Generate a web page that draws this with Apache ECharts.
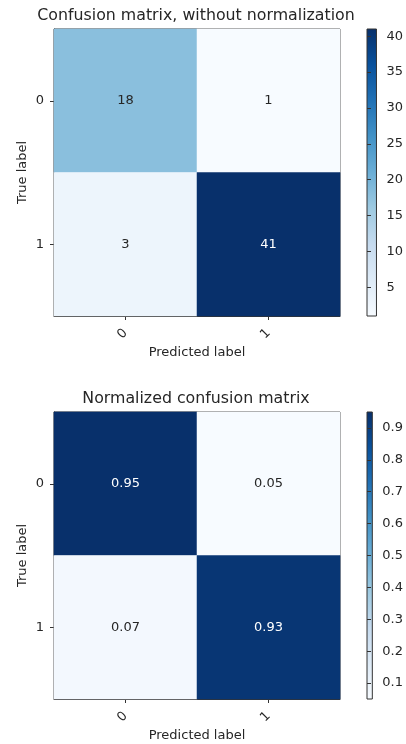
<!DOCTYPE html>
<html>
<head>
<meta charset="utf-8">
<script src="https://cdn.jsdelivr.net/npm/echarts@6/dist/echarts.min.js"></script>
<style>
  html, body { margin: 0; padding: 0; background: #fff; }
  #chart { width: 406px; height: 744px; }
</style>
</head>
<body>
<div id="chart"></div>
<script>
// Class names shared by both matrices
const classes = ['0', '1'];

// Raw prediction counts, row = true label, column = predicted label
const countsRow0 = [18, 1];
const countsRow1 = [3, 41];

// Row-normalized rates, as printed in the cells
const normRow0 = [0.95, 0.05];
const normRow1 = [0.07, 0.93];

// Colour bar tick values
const countTicks = [5, 10, 15, 20, 25, 30, 35, 40];
const normTicks = [0.1, 0.2, 0.3, 0.4, 0.5, 0.6, 0.7, 0.8, 0.9];

// matplotlib "Blues" colormap stops
const blues = ['#f7fbff', '#deebf7', '#c6dbef', '#9ecae1', '#6baed6',
               '#4292c6', '#2171b5', '#08519c', '#08306b'];

const FONT = 'DejaVu Sans';
const TEXT = '#262626';
const SPINE = '#333333';
const FS = 13;

function cells(rows) {
  const out = [];
  rows.forEach((row, y) => row.forEach((v, x) => out.push([x, y, v])));
  return out;
}

function extent(rows) {
  const all = rows.flat();
  return [Math.min(...all), Math.max(...all)];
}

const countCells = cells([countsRow0, countsRow1]);
const normCells = cells([normRow0, normRow1]);
const [cMin, cMax] = extent([countsRow0, countsRow1]);
const [nMin, nMax] = extent([normRow0, normRow1]);

// Gradient for the colour bar, dark at the top
const barGradient = {
  type: 'linear', x: 0, y: 0, x2: 0, y2: 1,
  colorStops: blues.slice().reverse().map((c, i) => ({ offset: i / (blues.length - 1), color: c }))
};

const panels = [
  { top: 29, title: 'Confusion matrix, without normalization', data: countCells,
    min: cMin, max: cMax, ticks: countTicks, fmt: v => String(v) },
  { top: 412, title: 'Normalized confusion matrix', data: normCells,
    min: nMin, max: nMax, ticks: normTicks, fmt: v => v.toFixed(2) }
];

const PLOT_LEFT = 54, PLOT_W = 286, PLOT_H = 287;
const BAR_LEFT = 367, BAR_W = 14;

const option = {
  animation: false,
  backgroundColor: '#fff',
  textStyle: { fontFamily: FONT },
  title: [], grid: [], xAxis: [], yAxis: [], visualMap: [], series: []
};

panels.forEach((p, k) => {
  const thresh = p.max / 2;
  const gPlot = k * 2, gBar = k * 2 + 1;

  option.title.push({
    text: p.title,
    left: PLOT_LEFT + PLOT_W / 2 - 1,
    top: p.top - 21,
    textAlign: 'center',
    padding: 0,
    textStyle: { fontFamily: FONT, fontSize: 15.8, fontWeight: 'normal', color: TEXT }
  });

  option.grid.push({
    left: PLOT_LEFT, top: p.top, width: PLOT_W, height: PLOT_H,
    show: true, borderColor: SPINE, borderWidth: 1, backgroundColor: 'transparent'
  });
  option.grid.push({
    left: BAR_LEFT, top: p.top, width: BAR_W, height: PLOT_H,
    show: true, borderColor: SPINE, borderWidth: 1, backgroundColor: barGradient
  });

  option.xAxis.push({
    type: 'category', gridIndex: gPlot, data: classes,
    name: 'Predicted label', nameLocation: 'middle', nameGap: 30,
    nameMoveOverlap: false,
    nameTextStyle: { fontFamily: FONT, fontSize: FS, color: TEXT },
    axisLine: { show: true, lineStyle: { color: SPINE, width: 1 } },
    axisTick: { show: true, alignWithLabel: true, length: 4, lineStyle: { color: SPINE } },
    axisLabel: { rotate: 45, margin: 15, fontFamily: FONT, fontSize: FS, color: TEXT },
    splitLine: { show: false }, splitArea: { show: false }
  });
  option.yAxis.push({
    type: 'category', gridIndex: gPlot, data: classes, inverse: true,
    name: 'True label', nameLocation: 'middle', nameGap: 25, nameRotate: 90,
    nameMoveOverlap: false,
    nameTextStyle: { fontFamily: FONT, fontSize: FS, color: TEXT },
    axisLine: { show: true, lineStyle: { color: SPINE, width: 1 } },
    axisTick: { show: true, alignWithLabel: true, length: 4, lineStyle: { color: SPINE } },
    axisLabel: { margin: 10, fontFamily: FONT, fontSize: FS, color: TEXT },
    splitLine: { show: false }, splitArea: { show: false }
  });

  option.xAxis.push({ type: 'value', gridIndex: gBar, show: false, min: 0, max: 1 });
  option.yAxis.push({
    type: 'value', gridIndex: gBar, position: 'right', min: p.min, max: p.max,
    axisLine: { show: false },
    axisTick: { show: true, inside: false, length: 4, lineStyle: { color: SPINE }, customValues: p.ticks },
    axisLabel: { margin: 10, fontFamily: FONT, fontSize: FS, color: TEXT,
                 customValues: p.ticks, formatter: v => String(v) },
    splitLine: { show: false }
  });

  option.visualMap.push({
    type: 'continuous', show: false, seriesIndex: k, dimension: 2,
    min: p.min, max: p.max, inRange: { color: blues }
  });

  option.series.push({
    type: 'heatmap', xAxisIndex: gPlot, yAxisIndex: gPlot,
    data: p.data.map(d => ({
      value: d,
      label: { color: d[2] > thresh ? '#ffffff' : TEXT }
    })),
    label: {
      show: true, fontFamily: FONT, fontSize: FS,
      formatter: prm => p.fmt(prm.value[2])
    },
    itemStyle: { borderWidth: 0 },
    emphasis: { disabled: true }
  });
});

const chart = echarts.init(document.getElementById('chart'), null, { renderer: 'canvas' });
chart.setOption(option);
</script>
</body>
</html>
